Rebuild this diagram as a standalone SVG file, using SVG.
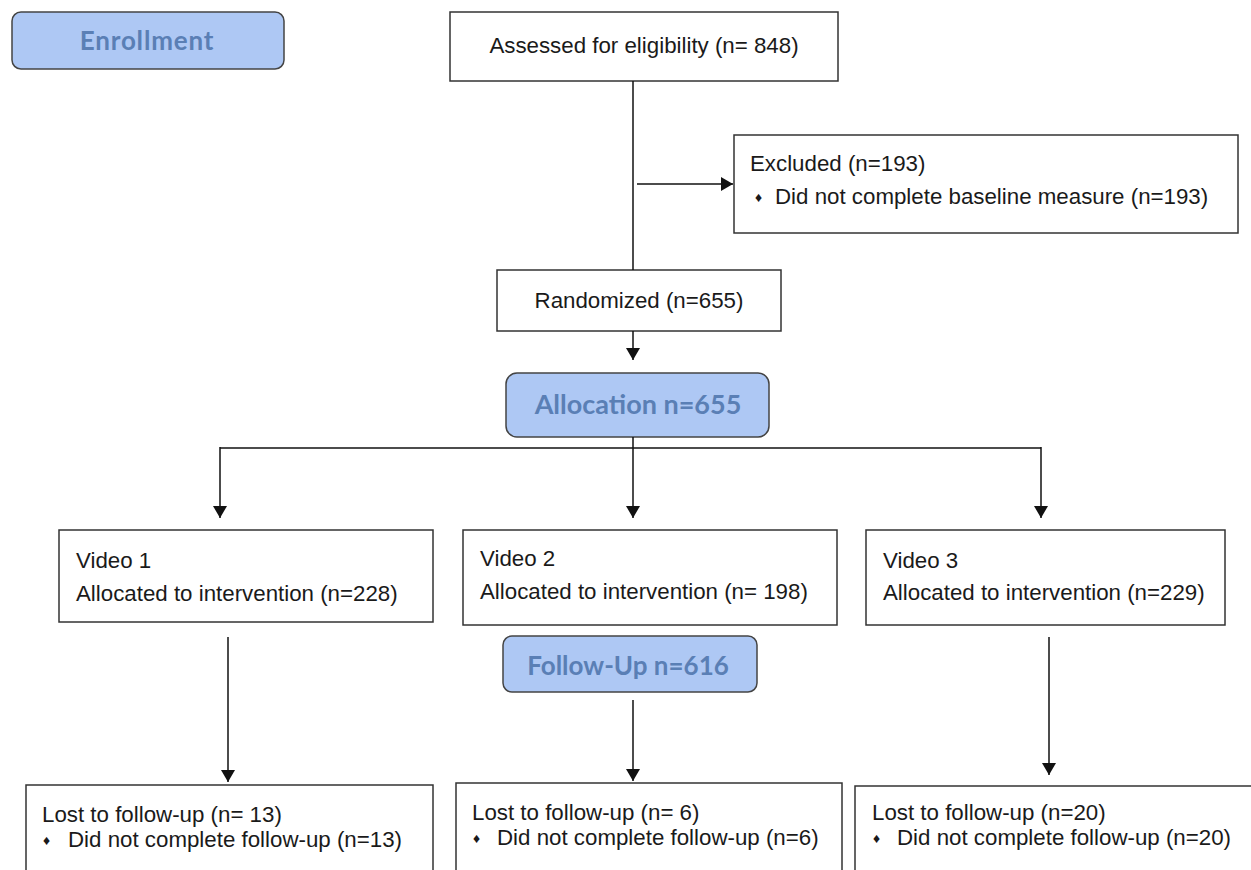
<svg xmlns="http://www.w3.org/2000/svg" width="1251" height="870" viewBox="0 0 1251 870">
<style>
.box{fill:#ffffff;stroke:#333333;stroke-width:1.5}
.phase{fill:#aec8f4;stroke:#444444;stroke-width:1.5}
.t{font-family:"Liberation Sans",Arial,sans-serif;font-size:22.3px;fill:#1a1a1a}
.b{font-family:"Liberation Sans",Arial,sans-serif;font-size:14px;fill:#1a1a1a}
.p{font-family:Lato,"Open Sans",sans-serif;font-weight:bold;fill:#5a7fb5;text-anchor:middle}
.ln{fill:none;stroke:#111111;stroke-width:1.5}
</style>
<defs>
<marker id="arr" markerUnits="userSpaceOnUse" markerWidth="12" markerHeight="14" viewBox="0 0 12 14" refX="12" refY="7" orient="auto">
<path d="M0,0 L12,7 L0,14 Z" fill="#111111"/>
</marker>
</defs>

<g id="enrollment">
<rect class="phase" x="12" y="12" width="272" height="57" rx="9"/>
<text class="p" x="147" y="50" font-size="26" letter-spacing="0.8">Enrollment</text>
</g>

<g id="assessed">
<rect class="box" x="450" y="12" width="388" height="69"/>
<text class="t" x="644" y="53" text-anchor="middle">Assessed for eligibility (n= 848)</text>
</g>

<g id="excluded">
<rect class="box" x="734" y="135" width="504" height="98"/>
<text class="t" x="750" y="171">Excluded (n=193)</text>
<text class="b" x="755" y="202">♦</text>
<text class="t" x="775" y="204">Did not complete baseline measure (n=193)</text>
</g>

<g id="randomized">
<rect class="box" x="497" y="270" width="284" height="61"/>
<text class="t" x="639" y="308" text-anchor="middle">Randomized (n=655)</text>
</g>

<g id="allocation">
<rect class="phase" x="506" y="373" width="263" height="64" rx="11"/>
<text class="p" x="638" y="414" font-size="27">Allocation n=655</text>
</g>

<g id="video1">
<rect class="box" x="59" y="530" width="374" height="92"/>
<text class="t" x="76" y="568">Video 1</text>
<text class="t" x="76" y="601">Allocated to intervention (n=228)</text>
</g>

<g id="video2">
<rect class="box" x="463" y="530" width="374" height="95"/>
<text class="t" x="480" y="566">Video 2</text>
<text class="t" x="480" y="599">Allocated to intervention (n= 198)</text>
</g>

<g id="video3">
<rect class="box" x="866" y="530" width="359" height="95"/>
<text class="t" x="883" y="568">Video 3</text>
<text class="t" x="883" y="600">Allocated to intervention (n=229)</text>
</g>

<g id="followup">
<rect class="phase" x="503" y="636" width="254" height="56" rx="9"/>
<text class="p" x="628" y="675" font-size="26">Follow-Up n=616</text>
</g>

<g id="lost1">
<rect class="box" x="26" y="785" width="407" height="110"/>
<text class="t" x="42" y="822">Lost to follow-up (n= 13)</text>
<text class="b" x="43" y="845">♦</text>
<text class="t" x="68" y="847">Did not complete follow-up (n=13)</text>
</g>

<g id="lost2">
<rect class="box" x="456" y="783" width="386" height="110"/>
<text class="t" x="472" y="820">Lost to follow-up (n= 6)</text>
<text class="b" x="473" y="843">♦</text>
<text class="t" x="497" y="845">Did not complete follow-up (n=6)</text>
</g>

<g id="lost3">
<rect class="box" x="855" y="786" width="420" height="110"/>
<text class="t" x="872" y="820">Lost to follow-up (n=20)</text>
<text class="b" x="873" y="843">♦</text>
<text class="t" x="897" y="845">Did not complete follow-up (n=20)</text>
</g>

<g id="connectors">
<line class="ln" x1="633" y1="81" x2="633" y2="270"/>
<line class="ln" x1="637" y1="184" x2="733" y2="184" marker-end="url(#arr)"/>
<line class="ln" x1="633" y1="331" x2="633" y2="360" marker-end="url(#arr)"/>
<line class="ln" x1="220" y1="448" x2="1041" y2="448"/>
<line class="ln" x1="633" y1="437" x2="633" y2="518" marker-end="url(#arr)"/>
<line class="ln" x1="220" y1="447" x2="220" y2="518" marker-end="url(#arr)"/>
<line class="ln" x1="1041" y1="447" x2="1041" y2="518" marker-end="url(#arr)"/>
<line class="ln" x1="228" y1="637" x2="228" y2="782" marker-end="url(#arr)"/>
<line class="ln" x1="633" y1="700" x2="633" y2="781" marker-end="url(#arr)"/>
<line class="ln" x1="1049" y1="637" x2="1049" y2="775" marker-end="url(#arr)"/>
</g>
</svg>
